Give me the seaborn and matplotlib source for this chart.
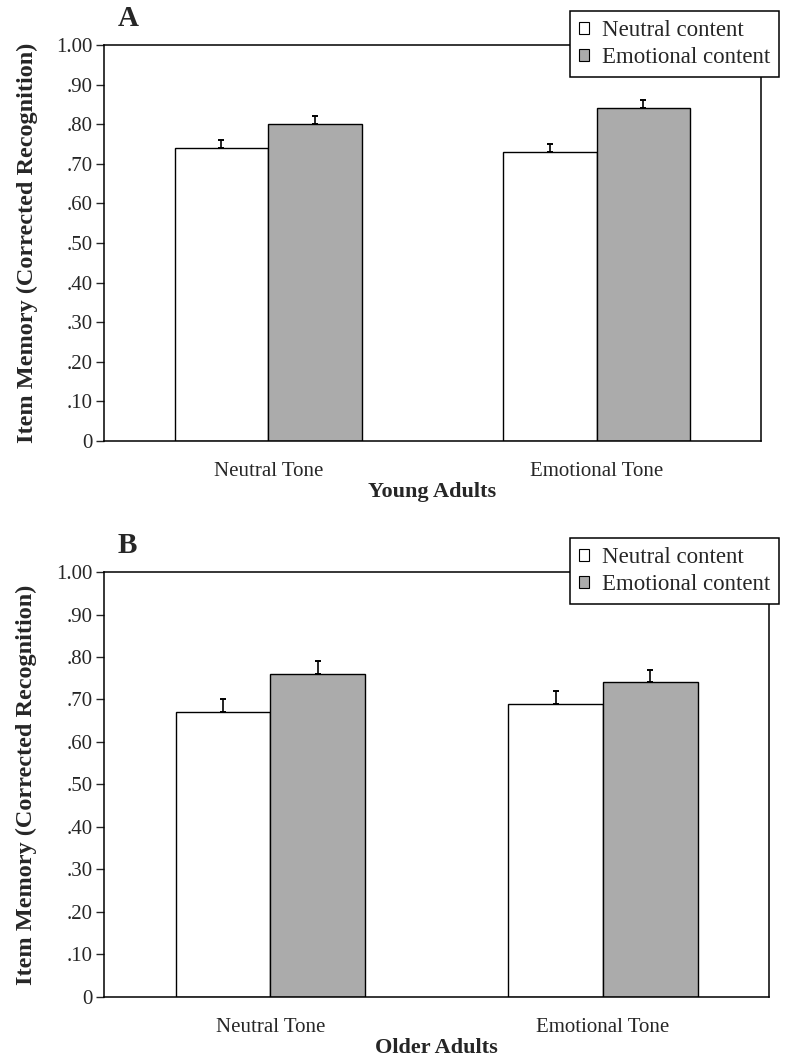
import numpy as np
import pandas as pd
import matplotlib
matplotlib.use("Agg")
import matplotlib.pyplot as plt
import seaborn as sns
from matplotlib.patches import Patch

# data
tones = ["Neutral Tone", "Emotional Tone"]
contents = ["Neutral content", "Emotional content"]
young_means = [0.74, 0.80, 0.73, 0.84]   # NT/NC, NT/EC, ET/NC, ET/EC
young_err = [0.02, 0.02, 0.02, 0.02]
older_means = [0.67, 0.76, 0.69, 0.74]
older_err = [0.03, 0.03, 0.03, 0.03]
yticks = [0, .1, .2, .3, .4, .5, .6, .7, .8, .9, 1.0]
ytick_labels = ["0", ".10", ".20", ".30", ".40", ".50", ".60", ".70", ".80", ".90", "1.00"]

colors = {"Neutral content": "white", "Emotional content": "#ababab"}

sns.set_style("white")
plt.rcParams["font.family"] = ["Liberation Serif", "DejaVu Serif"]

fig = plt.figure(figsize=(8, 10.64), dpi=100)
axA = fig.add_axes([0.13, 0.5855, 0.821, 0.3722])
axB = fig.add_axes([0.13, 0.063, 0.8315, 0.3994])


def panel(ax, means, errs, letter, xlabel, leg_anchor):
    df = pd.DataFrame({
        "tone": np.repeat(tones, 2),
        "content": contents * 2,
        "value": means,
        "err": errs,
    })
    sns.barplot(data=df, x="tone", y="value", hue="content", order=tones,
                hue_order=contents, palette=colors, errorbar=None,
                width=0.57, edgecolor="black", linewidth=1.0, ax=ax,
                legend=False)
    # one-sided error bars at the bar centres
    for p in ax.patches:
        h = p.get_height()
        if h <= 0:
            continue
        xc = p.get_x() + p.get_width() / 2
        row = df[np.isclose(df["value"], h)].iloc[0]
        ax.errorbar(xc, h, yerr=[[0], [row["err"]]], fmt="none",
                    ecolor="black", elinewidth=1.2, capsize=2.5, capthick=1.4)
    ax.set_xlim(-0.5, 1.5)
    ax.set_ylim(0, 1.0)
    ax.set_yticks(yticks)
    ax.set_yticklabels(ytick_labels, fontsize=15)
    ax.set_xticks([0, 1])
    ax.set_xticklabels(tones, fontsize=15)
    ax.set_xticks([-0.5, 0.5, 1.5], minor=True)
    ax.tick_params(axis="x", which="major", length=0, pad=15)
    ax.tick_params(axis="x", which="minor", length=5, width=1, direction="out")
    ax.tick_params(axis="y", length=6, width=1, direction="out", left=True, pad=2)
    for s in ax.spines.values():
        s.set_visible(True)
        s.set_color("black")
        s.set_linewidth(1.1)
    ax.set_xlabel(xlabel, fontsize=16, fontweight="bold", labelpad=1)
    ax.set_ylabel("Item Memory (Corrected Recognition)", fontsize=17.5,
                  fontweight="bold")
    ax.yaxis.set_label_coords(-0.1, 0.5)
    ax.annotate(letter, xy=(0, 1), xycoords="axes fraction", xytext=(14, 19),
                textcoords="offset pixels", fontsize=21, fontweight="bold",
                va="baseline", ha="left")
    handles = [Patch(facecolor=colors[c], edgecolor="black", linewidth=0.8, label=c)
               for c in contents]
    leg = fig.legend(handles=handles, loc="upper right", bbox_to_anchor=leg_anchor,
                     fontsize=16.5, frameon=True, fancybox=False, framealpha=1,
                     edgecolor="black", handlelength=0.45, handleheight=0.45,
                     handletextpad=0.55, borderpad=0.4, labelspacing=0.25,
                     borderaxespad=0)
    leg.get_frame().set_linewidth(1.1)
    leg.set_zorder(10)


panel(axA, young_means, young_err, "A", "Young Adults", (0.974, 0.9897))
panel(axB, older_means, older_err, "B", "Older Adults", (0.974, 0.4944))

fig.savefig("out.png", dpi=100, facecolor="white")
